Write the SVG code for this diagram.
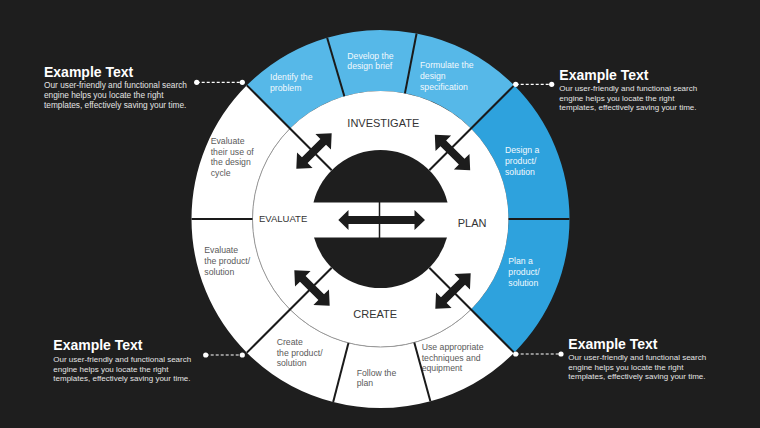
<svg xmlns="http://www.w3.org/2000/svg" xmlns:xlink="http://www.w3.org/1999/xlink" width="760" height="428" viewBox="0 0 760 428">
<style>
.lb{fill:#56b8e8}
.db{fill:#2ea2dd}
.wh{fill:#ffffff}
.div{stroke:#1a1a1a;stroke-width:2;fill:none}
.sl{font-family:"Liberation Sans",Arial,sans-serif;font-size:8.7px;fill:#5a5a5a}
.sb{font-family:"Liberation Sans",Arial,sans-serif;font-size:8.7px;fill:#f2f9fd}
.cl{font-family:"Liberation Sans",Arial,sans-serif;font-size:11px;fill:#333333}
.tt{font-family:"Liberation Sans",Arial,sans-serif;font-size:14px;font-weight:bold;fill:#ffffff}
.bd{font-family:"Liberation Sans",Arial,sans-serif;font-size:8px;fill:#e4e4e4}
.dash{stroke:#ffffff;stroke-width:1.2;stroke-dasharray:3 2;fill:none}
.dot{fill:#ffffff}
.ar{fill:#1c1c1c}
</style>
<defs>
<path id="darr" d="M-25,0 L-13,-11 L-13,-4 L13,-4 L13,-11 L25,0 L13,11 L13,4 L-13,4 L-13,11 Z"/>
</defs>
<rect width="760" height="428" fill="#1e1e1e"/>

<g id="seg-identify">
<path class="lb" d="M246.86,85.36 A189,189 0 0 1 327.14,37.69 L344.37,96.21 A128,128 0 0 0 289.99,128.49 Z"/>
<text class="sb" x="270" y="79.5">Identify the</text>
<text class="sb" x="270" y="90.5">problem</text>
</g>
<g id="seg-develop">
<path class="lb" d="M327.14,37.69 A189,189 0 0 1 416.56,33.48 L404.92,93.36 A128,128 0 0 0 344.37,96.21 Z"/>
<text class="sb" x="347.3" y="58.5">Develop the</text>
<text class="sb" x="347.3" y="69.2">design brief</text>
</g>
<g id="seg-formulate">
<path class="lb" d="M416.56,33.48 A189,189 0 0 1 514.14,85.36 L471.01,128.49 A128,128 0 0 0 404.92,93.36 Z"/>
<text class="sb" x="420" y="68.3">Formulate the</text>
<text class="sb" x="420" y="79">design</text>
<text class="sb" x="420" y="89.6">specification</text>
</g>
<g id="seg-design">
<path class="db" d="M514.14,85.36 A189,189 0 0 1 569.5,219 L508.5,219 A128,128 0 0 0 471.01,128.49 Z"/>
<text class="sb" x="505" y="153.3">Design a</text>
<text class="sb" x="505" y="164">product/</text>
<text class="sb" x="505" y="174.6">solution</text>
</g>
<g id="seg-plan">
<path class="db" d="M569.5,219 A189,189 0 0 1 514.14,352.64 L471.01,309.51 A128,128 0 0 0 508.5,219 Z"/>
<text class="sb" x="508.3" y="264.3">Plan a</text>
<text class="sb" x="508.3" y="274.9">product/</text>
<text class="sb" x="508.3" y="285.5">solution</text>
</g>
<g id="seg-use">
<path class="wh" d="M514.14,352.64 A189,189 0 0 1 430.38,401.31 L414.28,342.47 A128,128 0 0 0 471.01,309.51 Z"/>
<text class="sl" x="421.7" y="350">Use appropriate</text>
<text class="sl" x="421.7" y="360.7">techniques and</text>
<text class="sl" x="421.7" y="371.3">equipment</text>
</g>
<g id="seg-follow">
<path class="wh" d="M430.38,401.31 A189,189 0 0 1 333.18,401.97 L348.45,342.92 A128,128 0 0 0 414.28,342.47 Z"/>
<text class="sl" x="356.7" y="375.7">Follow the</text>
<text class="sl" x="356.7" y="386.4">plan</text>
</g>
<g id="seg-create">
<path class="wh" d="M333.18,401.97 A189,189 0 0 1 246.86,352.64 L289.99,309.51 A128,128 0 0 0 348.45,342.92 Z"/>
<text class="sl" x="276.7" y="345">Create</text>
<text class="sl" x="276.7" y="355.7">the product/</text>
<text class="sl" x="276.7" y="366.3">solution</text>
</g>
<g id="seg-evaluate-product">
<path class="wh" d="M246.86,352.64 A189,189 0 0 1 191.5,219 L252.5,219 A128,128 0 0 0 289.99,309.51 Z"/>
<text class="sl" x="204.3" y="253.3">Evaluate</text>
<text class="sl" x="204.3" y="264">the product/</text>
<text class="sl" x="204.3" y="274.6">solution</text>
</g>
<g id="seg-evaluate-use">
<path class="wh" d="M191.5,219 A189,189 0 0 1 246.86,85.36 L289.99,128.49 A128,128 0 0 0 252.5,219 Z"/>
<text class="sl" x="210.7" y="144">Evaluate</text>
<text class="sl" x="210.7" y="154.7">their use of</text>
<text class="sl" x="210.7" y="165.4">the design</text>
<text class="sl" x="210.7" y="176">cycle</text>
</g>

<g id="inner-ring">
<circle cx="380.5" cy="219" r="128" fill="#ffffff"/>
<path d="M471.01,309.51 A128,128 0 0 1 289.99,128.49" fill="none" stroke="#9a9a9a" stroke-width="1"/>
</g>

<g id="dividers">
<line class="div" x1="246.86" y1="85.36" x2="331.71" y2="170.21"/>
<line class="div" x1="514.14" y1="85.36" x2="429.29" y2="170.21"/>
<line class="div" x1="514.14" y1="352.64" x2="429.29" y2="267.79"/>
<line class="div" x1="246.86" y1="352.64" x2="331.71" y2="267.79"/>
<line class="div" x1="191.5" y1="219" x2="252.5" y2="219"/>
<line class="div" x1="508.5" y1="219" x2="569.5" y2="219"/>
<line class="div" x1="327.14" y1="37.69" x2="344.37" y2="96.21"/>
<line class="div" x1="416.56" y1="33.48" x2="404.92" y2="93.36"/>
<line class="div" x1="430.38" y1="401.31" x2="414.28" y2="342.47"/>
<line class="div" x1="333.18" y1="401.97" x2="348.45" y2="342.92"/>
</g>

<g id="stage-investigate"><text class="cl" x="383.3" y="127" text-anchor="middle">INVESTIGATE</text></g>
<g id="stage-plan"><text class="cl" x="457.7" y="226.7">PLAN</text></g>
<g id="stage-create"><text class="cl" x="353.3" y="318.3">CREATE</text></g>
<g id="stage-evaluate"><text class="cl" x="259" y="222.3" style="font-size:9.5px">EVALUATE</text></g>

<g id="center">
<path fill="#1e1e1e" d="M313.5,202.5 A69,69 0 0 1 447.5,202.5 Z"/>
<path fill="#1e1e1e" d="M446.97,237.5 A69,69 0 0 1 314.03,237.5 Z"/>
<line x1="379.5" y1="202" x2="379.5" y2="238" stroke="#1a1a1a" stroke-width="1.5"/>
<path class="ar" d="M338.3,220 L348.5,210 L348.5,216 L414.5,216 L414.5,210 L425,220 L414.5,230 L414.5,224 L348.5,224 L348.5,230 Z"/>
</g>

<g id="arrows">
<use xlink:href="#darr" class="ar" transform="translate(314,151) rotate(-45)"/>
<use xlink:href="#darr" class="ar" transform="translate(452.5,152.5) rotate(45)"/>
<use xlink:href="#darr" class="ar" transform="translate(312,288) rotate(45)"/>
<use xlink:href="#darr" class="ar" transform="translate(453,291) rotate(-45)"/>
</g>

<g id="connectors">
<line class="dash" x1="196.7" y1="82.3" x2="242.3" y2="82.3"/>
<circle class="dot" cx="196.7" cy="82.3" r="2.6"/>
<circle class="dot" cx="242.3" cy="82.3" r="2.6"/>
<line class="dash" x1="515.7" y1="84.3" x2="551.7" y2="84.3"/>
<circle class="dot" cx="515.7" cy="84.3" r="2.6"/>
<circle class="dot" cx="551.7" cy="84.3" r="2.6"/>
<line class="dash" x1="205.7" y1="355" x2="242.3" y2="355"/>
<circle class="dot" cx="205.7" cy="355" r="2.6"/>
<circle class="dot" cx="242.3" cy="355" r="2.6"/>
<line class="dash" x1="515.7" y1="354" x2="561" y2="354"/>
<circle class="dot" cx="515.7" cy="354" r="2.6"/>
<circle class="dot" cx="561" cy="354" r="2.6"/>
</g>

<g id="note-top-left">
<text class="tt" x="44" y="77">Example Text</text>
<text class="bd" x="44" y="87.5" style="font-size:8.3px">Our user-friendly and functional search</text>
<text class="bd" x="44" y="97.5" style="font-size:8.3px">engine helps you locate the right</text>
<text class="bd" x="44" y="107.5" style="font-size:8.3px">templates, effectively saving your time.</text>
</g>
<g id="note-top-right">
<text class="bd" x="559.3" y="91">Our user-friendly and functional search</text>
<text class="tt" x="559.3" y="79.5">Example Text</text>
<text class="bd" x="559.3" y="100.7">engine helps you locate the right</text>
<text class="bd" x="559.3" y="110.2">templates, effectively saving your time.</text>
</g>
<g id="note-bottom-left">
<text class="tt" x="53.3" y="350">Example Text</text>
<text class="bd" x="53.3" y="361.7">Our user-friendly and functional search</text>
<text class="bd" x="53.3" y="371.5">engine helps you locate the right</text>
<text class="bd" x="53.3" y="381.2">templates, effectively saving your time.</text>
</g>
<g id="note-bottom-right">
<text class="tt" x="568.3" y="349">Example Text</text>
<text class="bd" x="568.3" y="360">Our user-friendly and functional search</text>
<text class="bd" x="568.3" y="369.6">engine helps you locate the right</text>
<text class="bd" x="568.3" y="379.3">templates, effectively saving your time.</text>
</g>
</svg>
